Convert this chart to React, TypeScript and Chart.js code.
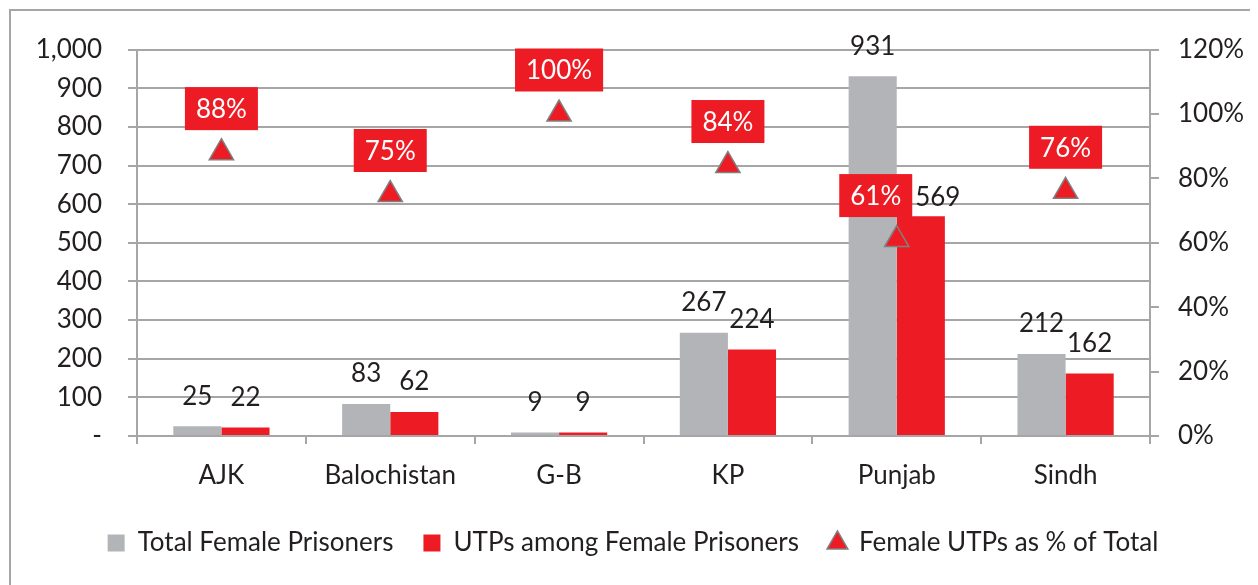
import React, { useEffect, useRef } from "react";
import { Chart, registerables } from "chart.js";

Chart.register(...registerables);

const categories = ["AJK", "Balochistan", "G-B", "KP", "Punjab", "Sindh"];
const totalFemale = [25, 83, 9, 267, 931, 212];
const utpFemale = [22, 62, 9, 224, 569, 162];
const utpPercent = [88, 75, 100, 84, 61, 76];
const seriesNames = [
  "Total Female Prisoners",
  "UTPs among Female Prisoners",
  "Female UTPs as % of Total",
];

const GRAY = "#b3b4b8";
const RED = "#ed1c24";
const GRID = "#a6a6a9";
const TEXT = "#231f20";
const FONT = "Lato";
const FS = 26;

// label nudges (pixels) for a few labels that were moved in the original
const barLabelDx: number[][] = [
  [0, 0, 0, 0, 0, 0],
  [0, 0, 0, 0, 17, 0],
];
const barLabelDy: number[][] = [
  [0, 0, 0, 0, 0, 0],
  [0, 0, 0, 0, 11, 0],
];
const pctLabelDx = [0, 0, 0, 0, -21, 0];

const labelPlugin = {
  id: "valueLabels",
  afterDatasetsDraw(chart: any) {
    const ctx = chart.ctx;
    ctx.save();
    ctx.font = `${FS}px ${FONT}`;
    ctx.textAlign = "center";
    ctx.textBaseline = "middle";
    [0, 1].forEach((di) => {
      const meta = chart.getDatasetMeta(di);
      meta.data.forEach((el: any, i: number) => {
        const v = chart.data.datasets[di].data[i];
        ctx.fillStyle = TEXT;
        ctx.fillText(String(v), el.x + barLabelDx[di][i], el.y - 30 + barLabelDy[di][i]);
      });
    });
    const meta = chart.getDatasetMeta(2);
    meta.data.forEach((el: any, i: number) => {
      const text = `${utpPercent[i]}%`;
      const w = ctx.measureText(text).width + 22;
      const h = 43;
      const cx = el.x + pctLabelDx[i];
      const cy = el.y - 44;
      ctx.fillStyle = RED;
      ctx.fillRect(cx - w / 2, cy - h / 2, w, h);
      ctx.fillStyle = "#ffffff";
      ctx.fillText(text, cx, cy + 1);
    });
    ctx.restore();
  },
};

export default function App() {
  const ref = useRef<HTMLCanvasElement | null>(null);
  useEffect(() => {
    if (!ref.current) return;
    const font = { family: FONT, size: FS };
    const chart = new Chart(ref.current, {
      type: "bar",
      data: {
        labels: categories,
        datasets: [
          {
            type: "bar",
            label: seriesNames[0],
            data: totalFemale,
            backgroundColor: GRAY,
            yAxisID: "y",
            order: 1,
            categoryPercentage: 0.57,
            barPercentage: 1.0,
          },
          {
            type: "bar",
            label: seriesNames[1],
            data: utpFemale,
            backgroundColor: RED,
            yAxisID: "y",
            order: 2,
            categoryPercentage: 0.57,
            barPercentage: 1.0,
          },
          {
            type: "line",
            label: seriesNames[2],
            data: utpPercent,
            yAxisID: "y1",
            order: 0,
            showLine: false,
            pointStyle: "triangle",
            pointRadius: 14,
            pointHoverRadius: 14,
            pointBackgroundColor: RED,
            pointBorderColor: "#7f7f7f",
            pointBorderWidth: 1.5,
          },
        ],
      } as any,
      options: {
        animation: false,
        responsive: false,
        layout: { padding: { top: 40, left: 0, right: 0, bottom: 19 } },
        plugins: {
          tooltip: { enabled: false },
          legend: {
            position: "bottom",
            labels: {
              font,
              color: TEXT,
              usePointStyle: true,
              boxWidth: 17,
              boxHeight: 17,
              padding: 30,
              generateLabels: () =>
                seriesNames.map((name, i) => ({
                  text: name,
                  fillStyle: [GRAY, RED, RED][i],
                  strokeStyle: i === 2 ? "#7f7f7f" : [GRAY, RED][i],
                  lineWidth: i === 2 ? 1.5 : 0,
                  pointStyle: i === 2 ? "triangle" : "rect",
                  hidden: false,
                  datasetIndex: i,
                  fontColor: TEXT,
                })),
            },
          },
        },
        scales: {
          x: {
            grid: {
              display: true,
              drawOnChartArea: false,
              drawTicks: true,
              tickLength: 8,
              color: GRID,
              lineWidth: 2,
              offset: true,
            },
            border: { display: true, color: GRID, width: 2 },
            ticks: { font, color: TEXT, padding: 16 },
            afterFit: (s: any) => {
              s.height = 64;
            },
          },
          y: {
            position: "left",
            min: 0,
            max: 1000,
            ticks: {
              stepSize: 100,
              font,
              color: TEXT,
              padding: 26,
              callback: (v: any) => (Number(v) === 0 ? "-" : Number(v).toLocaleString("en-US")),
            },
            grid: { color: GRID, lineWidth: 2, tickLength: 9 },
            border: { display: true, color: GRID, width: 2 },
            afterFit: (s: any) => {
              s.width = 129;
            },
          },
          y1: {
            position: "right",
            min: 0,
            max: 120,
            ticks: {
              stepSize: 20,
              font,
              color: TEXT,
              padding: 19,
              callback: (v: any) => `${v}%`,
            },
            grid: { drawOnChartArea: false, color: GRID, lineWidth: 2, tickLength: 9 },
            border: { display: true, color: GRID, width: 2 },
            afterFit: (s: any) => {
              s.width = 108;
            },
          },
        },
      } as any,
      plugins: [labelPlugin],
    });
    return () => chart.destroy();
  }, []);

  return (
    <div style={{ position: "relative", width: 1250, height: 577, overflow: "hidden" }}>
      <div
        style={{
          position: "absolute",
          left: 1,
          top: 1,
          width: 1400,
          height: 700,
          border: "2px solid #a6a6a6",
        }}
      />
      <canvas
        ref={ref}
        width={1250}
        height={577}
        style={{ position: "absolute", left: 0, top: 0, width: 1250, height: 577 }}
      />
    </div>
  );
}
